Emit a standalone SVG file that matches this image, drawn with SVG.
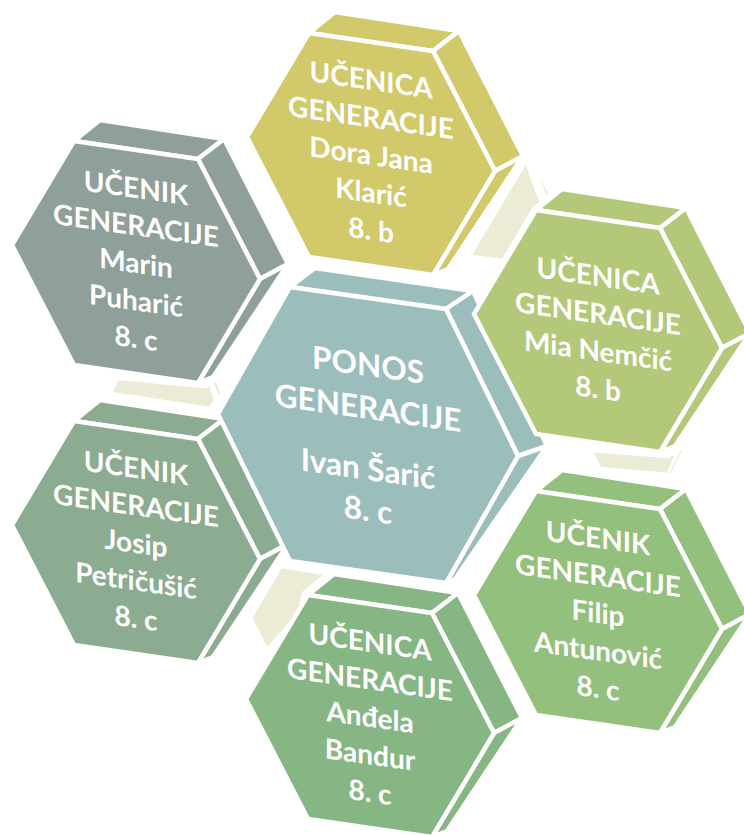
<svg xmlns="http://www.w3.org/2000/svg" width="744" height="835" viewBox="0 0 744 835">
<style>
.f{stroke:#fff;stroke-width:4.5;stroke-linejoin:miter}
.bg{fill:#ECEBD6;stroke:#fff;stroke-width:2.5}
.t{font-family:Lato,"Open Sans","DejaVu Sans",sans-serif;font-weight:bold;fill:#fff;text-anchor:middle;font-size:28px}
.tc{font-size:31.5px}
.c1{fill:#8FA09A}.c2{fill:#D2C96B}.c3{fill:#B3C878}.c4{fill:#9BBDBC}.c5{fill:#8BAC91}.c6{fill:#94C07D}.c7{fill:#87B685}
</style>
<rect width="744" height="835" fill="#fff"/>
<g id="connectors">
<polygon class="bg" points="118,379 205,387 210,385 215,400 210,408 111,393"/>
<polygon class="bg" points="212,382 217,381 222,395 218,397"/>
<polygon class="bg" points="526,162 541,203 534,207 503,260 470,256"/>
<polygon class="bg" points="529,157 550,194 546,197 532,164"/>
<polygon class="bg" points="592,451 668,457 677,452 668,474 600,468"/>
<polygon class="bg" points="679,451 686,446 671,475 667,475"/>
<polygon class="bg" points="281,567 326,574 303,593 299,613 267,649 251,618"/>
</g>

<g id="node-marin" transform="translate(136,262)">
<polygon class="f c1" points="-62,-121 62,-103 88,-123 -36,-142"/>
<polygon class="f c1" points="62,-103 124,17 152,2 88,-123"/>
<polygon class="f c1" points="124,17 62,121 77,115 152,2"/>
<polygon class="f c1" points="-124,-17 -62,-121 62,-103 124,17 62,121 -62,103"/>
<g class="t" transform="skewY(8)">
<text y="-64">UČENIK</text><text y="-26.5">GENERACIJE</text><text y="11">Marin</text><text y="48.5">Puharić</text><text y="86">8. c</text>
</g>
</g>

<g id="node-dora" transform="translate(371,154)">
<polygon class="f c2" points="-62,-121 62,-103 88,-123 -36,-142"/>
<polygon class="f c2" points="62,-103 124,17 152,2 88,-123"/>
<polygon class="f c2" points="124,17 62,121 77,115 152,2"/>
<polygon class="f c2" points="-124,-17 -62,-121 62,-103 124,17 62,121 -62,103"/>
<g class="t" transform="skewY(8)">
<text y="-64">UČENICA</text><text y="-26.5">GENERACIJE</text><text y="11">Dora Jana</text><text y="48.5">Klarić</text><text y="86">8. b</text>
</g>
</g>

<g id="node-josip" transform="translate(136,542)">
<polygon class="f c5" points="-62,-121 62,-103 88,-123 -36,-142"/>
<polygon class="f c5" points="62,-103 124,17 152,2 88,-123"/>
<polygon class="f c5" points="124,17 62,121 77,115 152,2"/>
<polygon class="f c5" points="-124,-17 -62,-121 62,-103 124,17 62,121 -62,103"/>
<g class="t" transform="skewY(8)">
<text y="-64">UČENIK</text><text y="-26.5">GENERACIJE</text><text y="11">Josip</text><text y="48.5">Petričušić</text><text y="86">8. c</text>
</g>
</g>

<g id="node-ivan" transform="translate(368,435)">
<polygon class="f c4" points="-78,-148 78,-126 105,-144 -53,-167"/>
<polygon class="f c4" points="78,-126 150,21 179,11 105,-144"/>
<polygon class="f c4" points="150,21 78,148 87,144 179,11"/>
<polygon class="f c4" points="-150,-21 -78,-148 78,-126 150,21 78,148 -78,126"/>
<g class="t tc" transform="skewY(8)">
<text y="-59">PONOS</text><text y="-16">GENERACIJE</text><text y="45">Ivan Šarić</text><text y="86">8. c</text>
</g>
</g>

<g id="node-mia" transform="translate(598,331)">
<polygon class="f c3" points="-62,-121 62,-103 88,-123 -36,-142"/>
<polygon class="f c3" points="62,-103 124,17 152,2 88,-123"/>
<polygon class="f c3" points="124,17 62,121 77,115 152,2"/>
<polygon class="f c3" points="-124,-17 -62,-121 62,-103 124,17 62,121 -62,103"/>
<g class="t" transform="skewY(8)">
<text y="-45">UČENICA</text><text y="-7.5">GENERACIJE</text><text y="30">Mia Nemčić</text><text y="67.5">8. b</text>
</g>
</g>

<g id="node-filip" transform="translate(598,612)">
<polygon class="f c6" points="-62,-121 62,-103 88,-123 -36,-142"/>
<polygon class="f c6" points="62,-103 124,17 152,2 88,-123"/>
<polygon class="f c6" points="124,17 62,121 77,115 152,2"/>
<polygon class="f c6" points="-124,-17 -62,-121 62,-103 124,17 62,121 -62,103"/>
<g class="t" transform="skewY(8)">
<text y="-64">UČENIK</text><text y="-26.5">GENERACIJE</text><text y="11">Filip</text><text y="48.5">Antunović</text><text y="86">8. c</text>
</g>
</g>

<g id="node-andjela" transform="translate(370,716)">
<polygon class="f c7" points="-62,-121 62,-103 88,-123 -36,-142"/>
<polygon class="f c7" points="62,-103 124,17 152,2 88,-123"/>
<polygon class="f c7" points="124,17 62,121 77,115 152,2"/>
<polygon class="f c7" points="-124,-17 -62,-121 62,-103 124,17 62,121 -62,103"/>
<g class="t" transform="skewY(8)">
<text y="-64">UČENICA</text><text y="-26.5">GENERACIJE</text><text y="11">Anđela</text><text y="48.5">Bandur</text><text y="86">8. c</text>
</g>
</g>
</svg>
